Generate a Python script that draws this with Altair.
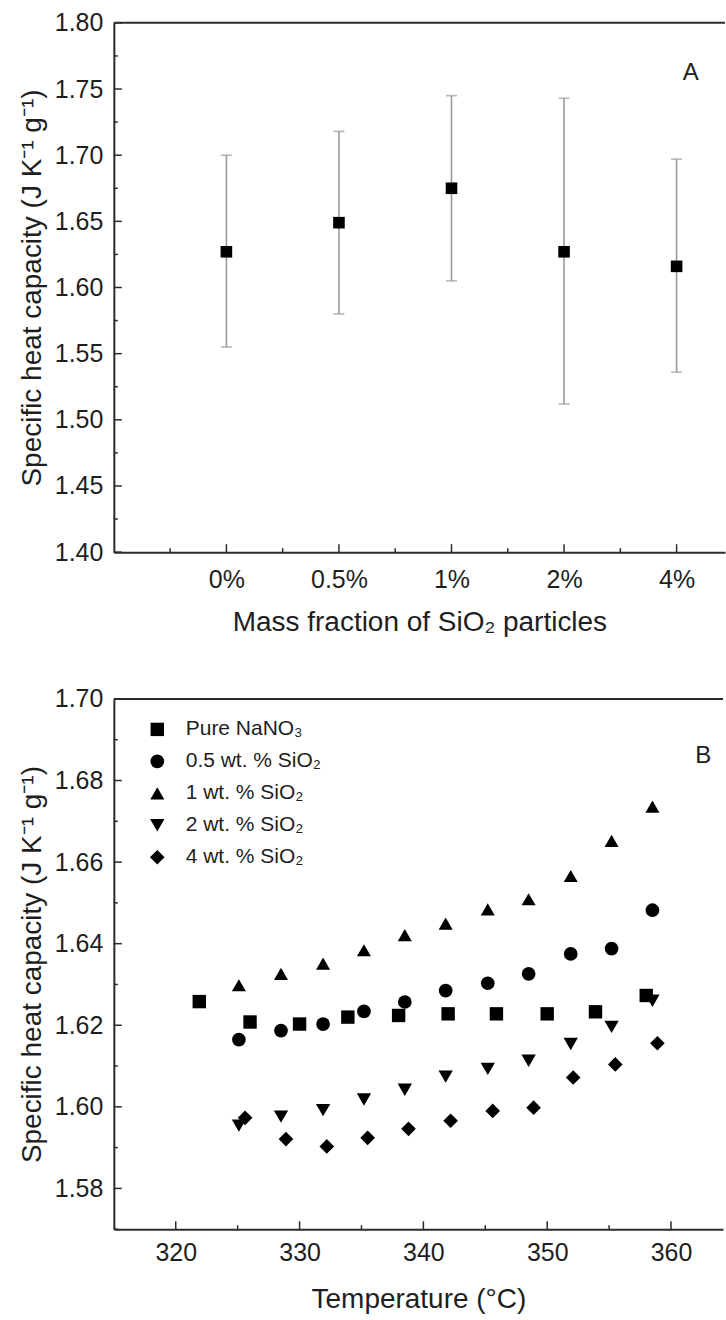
import altair as alt
import pandas as pd

# ---------------- Panel A data ----------------
fractions = ["0%", "0.5%", "1%", "2%", "4%"]
frac_pos = [0, 1, 2, 3, 4]
cp_mean = [1.627, 1.649, 1.675, 1.627, 1.616]
cp_low = [1.555, 1.580, 1.605, 1.512, 1.536]
cp_high = [1.700, 1.718, 1.745, 1.743, 1.697]

a_y_major = [1.40, 1.45, 1.50, 1.55, 1.60, 1.65, 1.70, 1.75, 1.80]
a_y_minor = [1.425, 1.475, 1.525, 1.575, 1.625, 1.675, 1.725, 1.775]
a_x_major = [0, 1, 2, 3, 4]
a_x_minor = [-0.5, 0.5, 1.5, 2.5, 3.5]

# ---------------- Panel B data ----------------
series = ["Pure NaNO₃", "0.5 wt. % SiO₂", "1 wt. % SiO₂", "2 wt. % SiO₂", "4 wt. % SiO₂"]
shapes = ["square", "circle", "triangle-up", "triangle-down", "diamond"]
shape_sizes = [180, 215, 410, 410, 370]

t_pure = [321.9, 326.0, 330.0, 333.9, 338.0, 342.0, 345.9, 350.0, 353.9, 358.0]
cp_pure = [1.6258, 1.6208, 1.6203, 1.6220, 1.6224, 1.6228, 1.6228, 1.6228, 1.6233, 1.6273]
t_05 = [325.1, 328.5, 331.9, 335.2, 338.5, 341.8, 345.2, 348.5, 351.9, 355.2, 358.5]
cp_05 = [1.6165, 1.6187, 1.6203, 1.6234, 1.6257, 1.6285, 1.6303, 1.6326, 1.6375, 1.6388, 1.6482]
t_1 = [325.1, 328.5, 331.9, 335.2, 338.5, 341.8, 345.2, 348.5, 351.9, 355.2, 358.5]
cp_1 = [1.6298, 1.6326, 1.6351, 1.6384, 1.6421, 1.6449, 1.6484, 1.6509, 1.6566, 1.6652, 1.6736]
t_2 = [325.1, 328.5, 331.9, 335.2, 338.5, 341.8, 345.2, 348.5, 351.9, 355.2, 358.5]
cp_2 = [1.5954, 1.5976, 1.5992, 1.6018, 1.6042, 1.6074, 1.6093, 1.6113, 1.6154, 1.6196, 1.6260]
t_4 = [325.6, 328.9, 332.2, 335.5, 338.8, 342.2, 345.6, 348.9, 352.1, 355.5, 358.9]
cp_4 = [1.5973, 1.5921, 1.5903, 1.5924, 1.5946, 1.5966, 1.5990, 1.5998, 1.6072, 1.6104, 1.6156]

b_y_major = [1.58, 1.60, 1.62, 1.64, 1.66, 1.68, 1.70]
b_y_minor = [1.57, 1.59, 1.61, 1.63, 1.65, 1.67, 1.69]
b_x_major = [320, 330, 340, 350, 360]
b_x_minor = [325, 335, 345, 355]

FONT = "Liberation Sans"
TXT = "#1e1e1e"
AX = "#2b2b2b"
YTITLE = "Specific heat capacity (J K⁻¹ g⁻¹)"

# ---------------- Panel A ----------------
A_W, A_H = 612, 530
dfA = pd.DataFrame({"pos": frac_pos, "label": fractions, "cp": cp_mean,
                    "lo": cp_low, "hi": cp_high})
xA = alt.Scale(domain=[-1, 4.43], nice=False, zero=False)
yA = alt.Scale(domain=[1.40, 1.80], nice=False, zero=False)

label_expr = "[" + ",".join("'" + f + "'" for f in fractions) + "][datum.value]"
axXA = alt.Axis(values=frac_pos, labelExpr=label_expr, ticks=False, tickSize=0,
                grid=False, labelPadding=15, titlePadding=16,
                title="Mass fraction of SiO₂ particles")
axYA = alt.Axis(values=a_y_major, format=".2f", ticks=False, tickSize=0,
                grid=False, labelPadding=11, titlePadding=8, title=YTITLE)


def XA(field):
    return alt.X(field, scale=xA, axis=axXA, title="Mass fraction of SiO₂ particles")


def YA(field):
    return alt.Y(field, scale=yA, axis=axYA, title=YTITLE)


baseA = alt.Chart(dfA)
errA = baseA.mark_rule(color="#9a9a9a", strokeWidth=1.6).encode(
    x=XA("pos:Q"), y=YA("lo:Q"), y2="hi:Q")
capLo = baseA.mark_tick(color="#9a9a9a", orient="horizontal", size=11, thickness=1.6).encode(
    x=XA("pos:Q"), y=YA("lo:Q"))
capHi = baseA.mark_tick(color="#9a9a9a", orient="horizontal", size=11, thickness=1.6).encode(
    x=XA("pos:Q"), y=YA("hi:Q"))
ptsA = baseA.mark_point(shape="square", filled=True, color="black", opacity=1, size=135).encode(
    x=XA("pos:Q"), y=YA("cp:Q"))


def yticks(vals, Yf, length):
    return alt.Chart(pd.DataFrame({"v": vals})).mark_rule(color=AX, strokeWidth=1.5).encode(
        y=Yf("v:Q"), x=alt.value(0), x2=alt.value(length))


def xticks(vals, Xf, length, h):
    return alt.Chart(pd.DataFrame({"v": vals})).mark_rule(color=AX, strokeWidth=1.5).encode(
        x=Xf("v:Q"), y=alt.value(h), y2=alt.value(h - length))


topA = alt.Chart(pd.DataFrame({"v": [1.80]})).mark_rule(color=AX, strokeWidth=2).encode(
    y=YA("v:Q"))
textA = alt.Chart(pd.DataFrame({"t": ["A"], "x": [4.125], "y": [1.762]})).mark_text(
    font=FONT, fontSize=24, color=TXT).encode(x=XA("x:Q"), y=YA("y:Q"), text="t:N")

chartA = alt.layer(
    errA, capLo, capHi, ptsA,
    yticks(a_y_major, YA, 8), yticks(a_y_minor, YA, 4),
    xticks(a_x_major, XA, 8, A_H), xticks(a_x_minor, XA, 4, A_H),
    topA, textA,
).properties(width=A_W, height=A_H)

# ---------------- Panel B ----------------
B_W, B_H = 610, 531
rows = []
for name, ts, cs in zip(series, [t_pure, t_05, t_1, t_2, t_4], [cp_pure, cp_05, cp_1, cp_2, cp_4]):
    for t, c in zip(ts, cs):
        rows.append({"series": name, "T": t, "cp": c})
dfB = pd.DataFrame(rows)
xB = alt.Scale(domain=[315, 364.2], nice=False, zero=False)
yB = alt.Scale(domain=[1.57, 1.70], nice=False, zero=False)
axXB = alt.Axis(values=b_x_major, format="d", ticks=False, tickSize=0, grid=False,
                labelPadding=11, titlePadding=20, title="Temperature (°C)")
axYB = alt.Axis(values=b_y_major, format=".2f", ticks=False, tickSize=0, grid=False,
                labelPadding=11, titlePadding=8, title=YTITLE)


def XB(field):
    return alt.X(field, scale=xB, axis=axXB, title="Temperature (°C)")


def YB(field):
    return alt.Y(field, scale=yB, axis=axYB, title=YTITLE)


legB = alt.Legend(title=None, orient="none", legendX=33, legendY=20,
                  labelFont=FONT, labelFontSize=21, labelColor=TXT,
                  symbolFillColor="black", symbolStrokeColor="black", symbolOpacity=1,
                  symbolStrokeWidth=0, rowPadding=10, labelOffset=18, padding=0)

ptsB = alt.Chart(dfB).mark_point(filled=True, color="black", opacity=1).encode(
    x=XB("T:Q"), y=YB("cp:Q"),
    shape=alt.Shape("series:N", scale=alt.Scale(domain=series, range=shapes), legend=legB),
    size=alt.Size("series:N", scale=alt.Scale(domain=series, range=shape_sizes), legend=legB),
)
topB = alt.Chart(pd.DataFrame({"v": [1.70]})).mark_rule(color=AX, strokeWidth=2).encode(
    y=YB("v:Q"))
textB = alt.Chart(pd.DataFrame({"t": ["B"], "x": [362.6], "y": [1.686]})).mark_text(
    font=FONT, fontSize=24, color=TXT).encode(x=XB("x:Q"), y=YB("y:Q"), text="t:N")

chartB = alt.layer(
    ptsB,
    yticks(b_y_major, YB, 8), yticks(b_y_minor, YB, 4),
    xticks(b_x_major, XB, 8, B_H), xticks(b_x_minor, XB, 4, B_H),
    topB, textB,
).properties(width=B_W, height=B_H)

chart = alt.vconcat(chartA, chartB, spacing=51).resolve_legend(
    shape="independent", size="independent"
).resolve_scale(
    shape="independent", size="independent"
).properties(
    padding={"left": 18, "top": 10, "right": 0, "bottom": 0},
    background="white",
).configure_view(strokeWidth=0).configure_axis(
    labelFont=FONT, labelFontSize=25, labelColor=TXT,
    titleFont=FONT, titleFontSize=28, titleFontWeight="normal", titleColor=TXT,
    domainColor=AX, domainWidth=2,
)

chart.save("out.html", embed_options={"renderer": "svg", "actions": False})
